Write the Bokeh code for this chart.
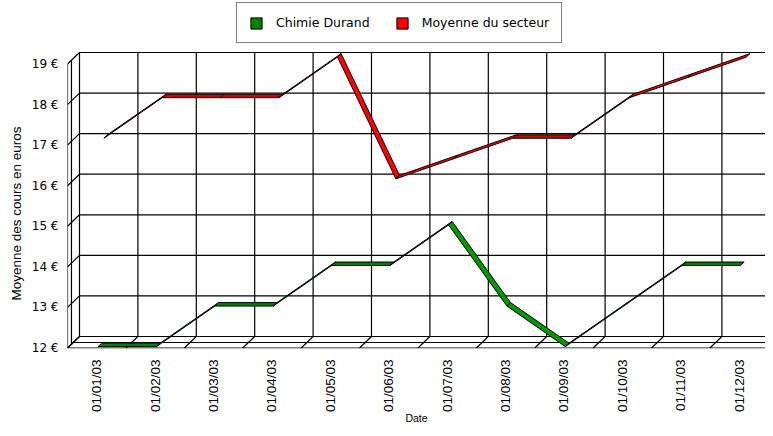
import numpy as np
from bokeh.plotting import figure
from bokeh.models import Range1d, FixedTicker, Legend, LegendItem, Title
from bokeh.embed import file_html
from bokeh.resources import INLINE

# ---------------- data ----------------
dates = ["01/01/03", "01/02/03", "01/03/03", "01/04/03", "01/05/03", "01/06/03",
         "01/07/03", "01/08/03", "01/09/03", "01/10/03", "01/11/03", "01/12/03"]
chimie = [12, 12, 13, 13, 14, 14, 15, 13, 12, 13, 14, 14]
secteur = [17, 18, 18, 18, 19, 16, 16.5, 17, 17, 18, 18.5, 19]
y_ticks = [12, 13, 14, 15, 16, 17, 18, 19]
y_tick_labels = {v: f"{v} €" for v in y_ticks}
series_names = ["Chimie Durand", "Moyenne du secteur"]

# ---------------- layout constants ----------------
W, H = 765, 428
BL, BB = 67, 80
SX, SY = 58.4, 40.57           # px per category / per euro
FW, FH = W - BL, H - BB
x0 = -0.5
y0 = y_ticks[0] - 0.5 / SY
DX, DY = 12 / SX, 11.5 / SY     # 3D depth vector (data units)

p = figure(width=W, height=H, output_backend="svg", toolbar_location=None,
           x_range=Range1d(x0, x0 + FW / SX), y_range=Range1d(y0, y0 + FH / SY),
           min_border_left=BL, min_border_right=0, min_border_top=0, min_border_bottom=BB)
p.xgrid.visible = False
p.ygrid.visible = False
p.outline_line_color = None
p.background_fill_color = "white"

n = len(dates)
ymin, ymax = y_ticks[0], y_ticks[-1]
LC, LW = "black", 1.2

# back wall grid
bx, by = [], []
for v in y_ticks:
    bx.append([x0 + DX, x0 + n + 1 + DX]); by.append([v + DY, v + DY])
for k in range(n + 1):
    bx.append([x0 + k + DX, x0 + k + DX]); by.append([ymin + DY, ymax + DY])
p.multi_line(bx, by, line_color=LC, line_width=LW)

# floor
fx, fy = [], []
for d in (0.0, 0.48):
    fx.append([x0 + d * DX, x0 + n + d * DX]); fy.append([ymin + d * DY, ymin + d * DY])
for k in range(n + 1):
    fx.append([x0 + k, x0 + k + DX]); fy.append([ymin, ymin + DY])
p.multi_line(fx, fy, line_color=LC, line_width=LW)

# left wall
lx, ly = [], []
for d in (0.0, 0.33):
    lx.append([x0 + d * DX, x0 + d * DX]); ly.append([ymin + d * DY, ymax + d * DY])
for v in y_ticks:
    lx.append([x0, x0 + DX]); ly.append([v, v + DY])
p.multi_line(lx, ly, line_color=LC, line_width=LW)


def ribbon(vals, d0, d1, flat_c, other_c):
    xs, ys, cs = [], [], []
    for i in range(len(vals) - 1):
        a, b = vals[i], vals[i + 1]
        xs.append([i + d0 * DX, i + 1 + d0 * DX, i + 1 + d1 * DX, i + d1 * DX])
        ys.append([a + d0 * DY, b + d0 * DY, b + d1 * DY, a + d1 * DY])
        cs.append(flat_c if a == b else other_c)
    return xs, ys, cs


rx, ry, rc = ribbon(secteur, 0.6, 0.9, "#D00000", "#FF0000")
r_red = p.patches(rx, ry, fill_color=rc, line_color="black", line_width=1)
gx, gy, gc = ribbon(chimie, 0.12, 0.42, "#008000", "#009900")
r_green = p.patches(gx, gy, fill_color=gc, line_color="black", line_width=1)

# axes
xa = p.xaxis[0]
xa.ticker = FixedTicker(ticks=list(range(n)))
xa.major_label_overrides = {i: d for i, d in enumerate(dates)}
xa.major_label_orientation = np.pi / 2
xa.axis_line_color = None
xa.major_tick_line_color = None
xa.minor_tick_line_color = None
xa.major_tick_out = 0
xa.major_tick_in = 0
xa.major_label_standoff = 11
xa.major_label_text_font = "Liberation Sans"
xa.major_label_text_font_size = "13.5px"
xa.major_label_text_color = "black"
xa.axis_label = "Date"
xa.axis_label_standoff = -3
xa.axis_label_text_font = "Liberation Sans"
xa.axis_label_text_font_size = "10.5px"
xa.axis_label_text_font_style = "normal"
xa.axis_label_text_color = "black"

ya = p.yaxis[0]
ya.ticker = FixedTicker(ticks=y_ticks)
ya.major_label_overrides = y_tick_labels
ya.axis_line_color = None
ya.major_tick_line_color = None
ya.minor_tick_line_color = None
ya.major_tick_out = 0
ya.major_tick_in = 0
ya.major_label_standoff = 9
ya.major_label_text_font = "DejaVu Sans"
ya.major_label_text_font_size = "12px"
ya.major_label_text_color = "black"

# y axis title as a side title, starting 48 px above the frame bottom
p.add_layout(Title(text="Moyenne des cours en euros", align="left", offset=48,
                   standoff=9, text_font="Liberation Sans", text_font_size="13.5px",
                   text_font_style="normal", text_color="black"), "left")

legend = Legend(items=[LegendItem(label=series_names[0], renderers=[r_green], index=0),
                       LegendItem(label=series_names[1], renderers=[r_red], index=4)],
                orientation="horizontal", location=(236 - BL, FH - 43),
                border_line_color="black", border_line_width=1.2, background_fill_alpha=1,
                padding=12, spacing=25, label_standoff=13, glyph_width=14, glyph_height=14,
                label_height=14, margin=0, label_text_font="DejaVu Sans",
                label_text_font_size="12.5px", label_text_color="black")
p.add_layout(legend)

open("out.html", "w").write(file_html(p, INLINE))
